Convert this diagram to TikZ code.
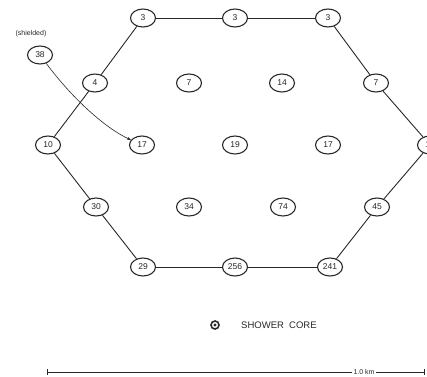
\documentclass[tikz,border=0pt]{standalone}
\usepackage{fontspec}
\setmainfont{Liberation Sans}
\usetikzlibrary{arrows.meta,positioning,shapes.geometric}
\definecolor{ink}{RGB}{40,40,40}
\tikzset{
  det/.style={draw=ink,ellipse,line width=1.1pt,minimum width=25pt,minimum height=18pt,
    inner sep=0pt,font=\fontsize{8.5}{8.5}\selectfont,text=ink},
  edge/.style={draw=ink,line width=0.9pt},
  lbl/.style={text=ink,inner sep=1pt}
}

\begin{document}
\begin{tikzpicture}[x=1pt,y=-1pt]
    \useasboundingbox (0,0) rectangle (427,376);
    % detector stations
    \foreach \n/\x/\y/\v in {
      t1/143/18/3, t2/235/18/3, t3/328/18/3,
      a1/95/83/4, a2/189/83/7, a3/282/83/14, a4/376/83/7,
      b1/48/145/10, b2/142/145/17, b3/235/145/19, b4/328/145/17, b5/430/145/16,
      c1/96/207/30, c2/189/207/34, c3/283/207/74, c4/377/207/45,
      d1/143/267/29, d2/235/267/256, d3/330/267/241}
    {
      \node[det] (\n) at (\x,\y) {\v};
    }
    % outer ring
    \foreach \a/\b in {t1/t2, t2/t3, t1/a1, a1/b1, b1/c1, c1/d1, d1/d2, d2/d3,
      t3/a4, a4/b5, b5/c4, c4/d3}
      \draw[edge] (\a) -- (\b);
    % shielded counter
    \node[det] (sh) at (40,55) {38};
    \node[lbl,font=\fontsize{7}{7}\selectfont] (shl) at (31,34) {(shielded)};
    \draw[draw=ink,line width=0.6pt,-{Stealth[length=4pt]}] (sh) .. controls (72,98) and (105,128) .. (b2);
    % key
    \node[draw=ink,circle,line width=1.6pt,minimum size=8pt,inner sep=0pt] (core) at (215,325) {};
    \fill[ink] (core.center) circle (1.6pt);
    \node[lbl,anchor=west,font=\fontsize{9.5}{9.5}\selectfont] (corel) at (240,325) {SHOWER\ \ CORE};
    % scale bar
    \coordinate (sbl) at (47,372);
    \coordinate (sbr) at (425,372);
    \node[lbl,font=\fontsize{7}{7}\selectfont] (km) at (364,372) {1.0 km};
    \draw[draw=ink,line width=0.6pt,{Bar[width=6pt]}-] (sbl) -- (km.west);
    \draw[draw=ink,line width=0.6pt,-{Bar[width=6pt]}] (km.east) -- (sbr);
  \end{tikzpicture}
\end{document}
